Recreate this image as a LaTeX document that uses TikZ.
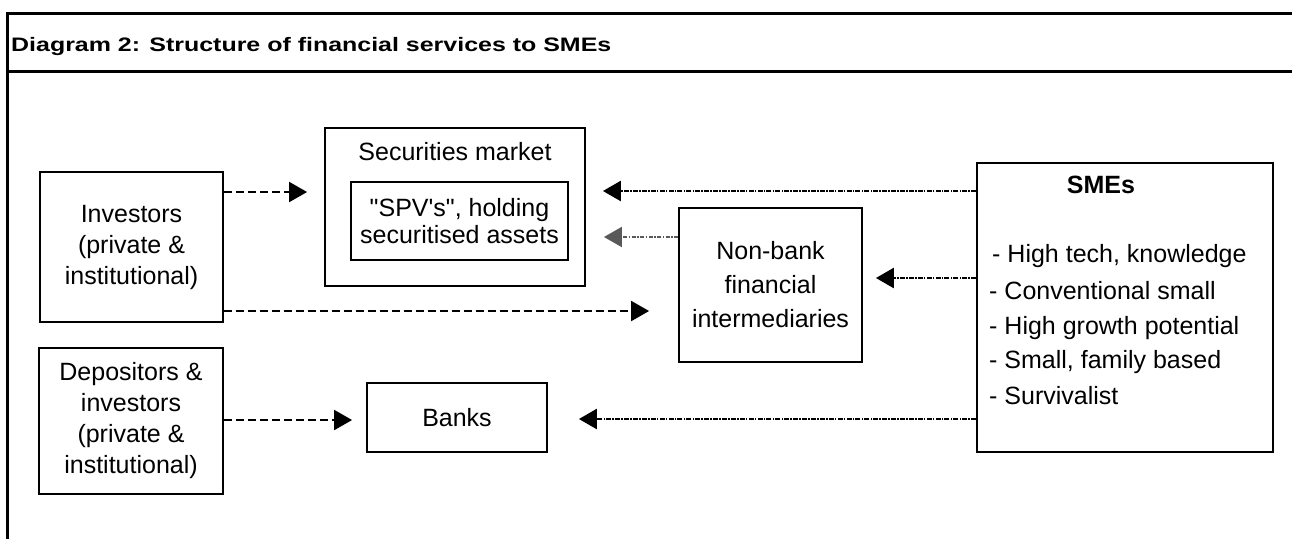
\documentclass[tikz,border=0pt]{standalone}
\usepackage{fontspec}
\setmainfont{Liberation Sans}[Ligatures=TeXOff]
\newfontfamily\headfont{Liberation Sans}[FakeStretch=1.28,Ligatures=TeXOff]
\usetikzlibrary{arrows.meta}
\begin{document}
\begin{tikzpicture}[x=1pt,y=-1pt,
  box/.style={draw,line width=1.8pt,inner sep=0pt,align=center,
    font=\fontsize{25}{31}\selectfont},
  txt/.style={inner sep=0pt,align=center,font=\fontsize{25}{31}\selectfont},
  item/.style={inner sep=0pt,anchor=base west,font=\fontsize{25}{31}\selectfont},
  frame/.style={line width=3pt},
  tip/.style={-{Triangle[length=18pt,width=20pt]}},
  dsh/.style={tip,line width=2pt,dash pattern=on 8pt off 4pt},
  dts/.style={tip,line width=2.5pt,dash pattern=on 5pt off 1.2pt on 1.5pt off 1.2pt},
  dtsl/.style={tip,line width=2pt,gray!70!black,dash pattern=on 4pt off 1.5pt on 1.5pt off 1.5pt}]
\useasboundingbox (0,0) rectangle (1292,539);

% outer frame and header rule
\coordinate (ftl) at (7,13.5);
\coordinate (ftr) at (1292,13.5);
\coordinate (fbl) at (7,539);
\coordinate (hl) at (7,71.5);
\coordinate (hr) at (1292,71.5);
\draw[frame] (ftr) -- (ftl) -- (fbl);
\draw[frame] (hl) -- (hr);
\node[anchor=base west,inner sep=0pt,font=\headfont\fontsize{19.5}{22}\selectfont\bfseries]
  (title) at (11,51.5) {Diagram 2: Structure of financial services to SMEs};

% boxes
\node[box,minimum width=183pt,minimum height=150pt] (inv) at (131.5,247)
  {Investors\\(private \&\\institutional)};
\node[box,minimum width=260pt,minimum height=158pt] (sec) at (455,207) {};
\node[txt] (seclbl) at (455,152) {Securities market};
\node[box,minimum width=217pt,minimum height=78pt,
  font=\fontsize{25}{27}\selectfont] (spv) at (459.5,221)
  {"SPV's", holding\\securitised assets};
\node[box,minimum width=183pt,minimum height=154pt,
  font=\fontsize{25}{34}\selectfont] (nbfi) at (770.5,285)
  {Non-bank\\financial\\intermediaries};
\node[box,minimum width=296pt,minimum height=289pt] (sme) at (1125,307.5) {};
\node[txt,anchor=base,font=\fontsize{25}{31}\selectfont\bfseries] (smet) at (1101,193) {SMEs};
\node[item] (sme1) at (992,262) {- High tech, knowledge};
\node[item] (sme2) at (989,299) {- Conventional small};
\node[item] (sme3) at (989,334) {- High growth potential};
\node[item] (sme4) at (989,368.5) {- Small, family based};
\node[item] (sme5) at (989,404) {- Survivalist};
\node[box,minimum width=184pt,minimum height=146pt] (dep) at (131,421)
  {Depositors \&\\investors\\(private \&\\institutional)};
\node[box,minimum width=180pt,minimum height=69pt] (bank) at (457,417.5) {Banks};

% flows
\coordinate (a1) at ([yshift=55pt]inv.east);
\draw[dsh,shorten >=17pt] (a1) -- (a1 -| sec.west);
\coordinate (a2) at ([yshift=-64pt]inv.east);
\draw[dsh,shorten >=29pt] (a2) -- (a2 -| nbfi.west);
\coordinate (a3) at ([yshift=116.5pt]sme.west);
\draw[dts,shorten >=17pt] (a3) -- (a3 -| sec.east);
\coordinate (a4) at ([yshift=48pt]nbfi.west);
\draw[dtsl,shorten >=18pt] (a4) -- (a4 -| sec.east);
\coordinate (a5) at ([yshift=29.5pt]sme.west);
\draw[dts,shorten >=13pt] (a5) -- (a5 -| nbfi.east);
\coordinate (a6) at ([yshift=-111.5pt]sme.west);
\draw[dts,shorten >=31pt] (a6) -- (a6 -| bank.east);
\coordinate (a7) at ([yshift=1pt]dep.east);
\draw[dsh,shorten >=14pt] (a7) -- (a7 -| bank.west);
\end{tikzpicture}
\end{document}
